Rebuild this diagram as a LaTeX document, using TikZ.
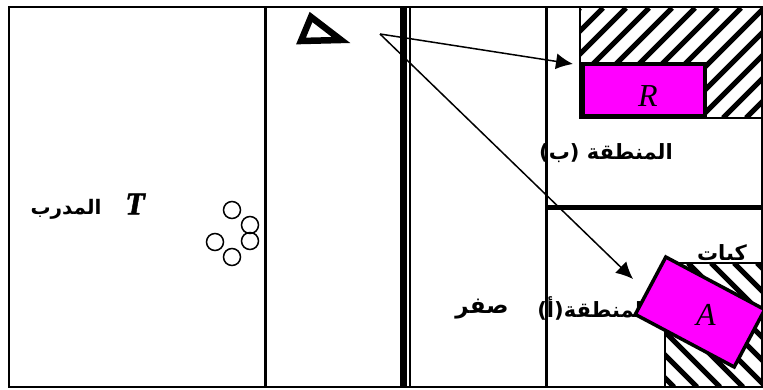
\documentclass[tikz,border=0pt]{standalone}
\usepackage{fontspec}
\usepackage{tikz}
\usetikzlibrary{arrows.meta, positioning}
\TeXXeTstate=1
\newfontfamily\arabicfont[Script=Arabic]{DejaVu Sans}
\setmainfont{Liberation Serif}
\newfontface\heavyletter[FakeBold=1.5]{Liberation Serif Bold Italic}
\definecolor{targetpink}{HTML}{FF00FF}

\begin{document}
\begin{tikzpicture}[
  x=1pt, y=-1pt,
  wall/.style={draw=black, line width=3pt},
  hatchbox/.style={draw=black, fill=white, line width=2pt},
  target/.style={draw=black, fill=targetpink, line width=3.5pt},
  ball/.style={draw=black, circle, line width=1.5pt, minimum size=17pt, inner sep=0pt},
  lbl/.style={font=\fontsize{21}{23}\selectfont\arabicfont\bfseries, inner sep=0pt},
  letter/.style={font=\fontsize{32}{34}\selectfont\itshape, inner sep=0pt},
  arr/.style={-{Latex[length=17pt, width=16pt]}, black, line width=1.5pt}
]
  \useasboundingbox (0,0) rectangle (763,390);

  % labels that the boxes cut
  \node[lbl] (balls) at (722,254) {\beginR كبات\endR};

  % hatched zones
  \draw[hatchbox] (580,7) rectangle (763,118);
  \begin{scope}
    \clip (580,7) rectangle (763,118);
    \foreach \s in {0,23,...,322}
      \draw[line width=5pt] (580+\s-110,118) -- (580+\s,8);
  \end{scope}
  \draw[hatchbox] (665,263) rectangle (763,387);
  \begin{scope}
    \clip (665,263) rectangle (762,387);
    \foreach \s in {-138,-115,...,115}
      \draw[line width=5pt] (665+\s,263) -- (665+\s+124,387);
  \end{scope}

  % field
  \draw[line width=2.5pt] (9,7) rectangle (762,387);
  \draw[wall] (265,7) -- (265,387);
  \draw[line width=7pt] (403,7) -- (403,387);
  \draw[line width=2pt] (410,7) -- (410,387);
  \draw[wall] (546,7) -- (546,387);
  \draw[line width=5pt] (546,208) -- (763,208);

  \node[lbl] (zoneA) at (590,308) {\beginR لمنطقة(أ)\endR};

  % targets
  \node[target, minimum width=122pt, minimum height=52pt, anchor=south west, inner sep=0pt] (boxR) at (581,118) {};
  \node[letter] (nameR) at (648,96) {R};
  \node[target, minimum width=112pt, minimum height=65pt, rotate=-28, inner sep=0pt] (boxA) at (700,312) {};
  \node[letter] (nameA) at (706,315) {A};

  \node[lbl] (zoneB) at (606,153) {\beginR المنطقة (ب)\endR};
  \node[lbl, font=\fontsize{23}{25}\selectfont\arabicfont\bfseries] (zero) at (482,309) {\beginR صفر\endR};
  \node[lbl, font=\fontsize{20}{22}\selectfont\arabicfont\bfseries] (coach) at (66,209) {\beginR المدرب\endR};
  \node[letter, font=\fontsize{32}{34}\selectfont\heavyletter] (nameT) at (135,204) {T};

  % balls
  \node[ball] (b1) at (232,210) {};
  \node[ball] (b2) at (250,225) {};
  \node[ball] (b3) at (250,241) {};
  \node[ball] (b4) at (215,242) {};
  \node[ball] (b5) at (232,257) {};

  % cone
  \draw[line width=6.5pt, miter limit=10] (311,17) -- (301,41) -- (341,40) -- cycle;

  % throws
  \coordinate (throw) at (380,34);
  \coordinate (toB) at (573,64);
  \coordinate (toA) at (633,279);
  \draw[arr] (throw) -- (toB);
  \draw[arr] (throw) -- (toA);
\end{tikzpicture}
\end{document}
